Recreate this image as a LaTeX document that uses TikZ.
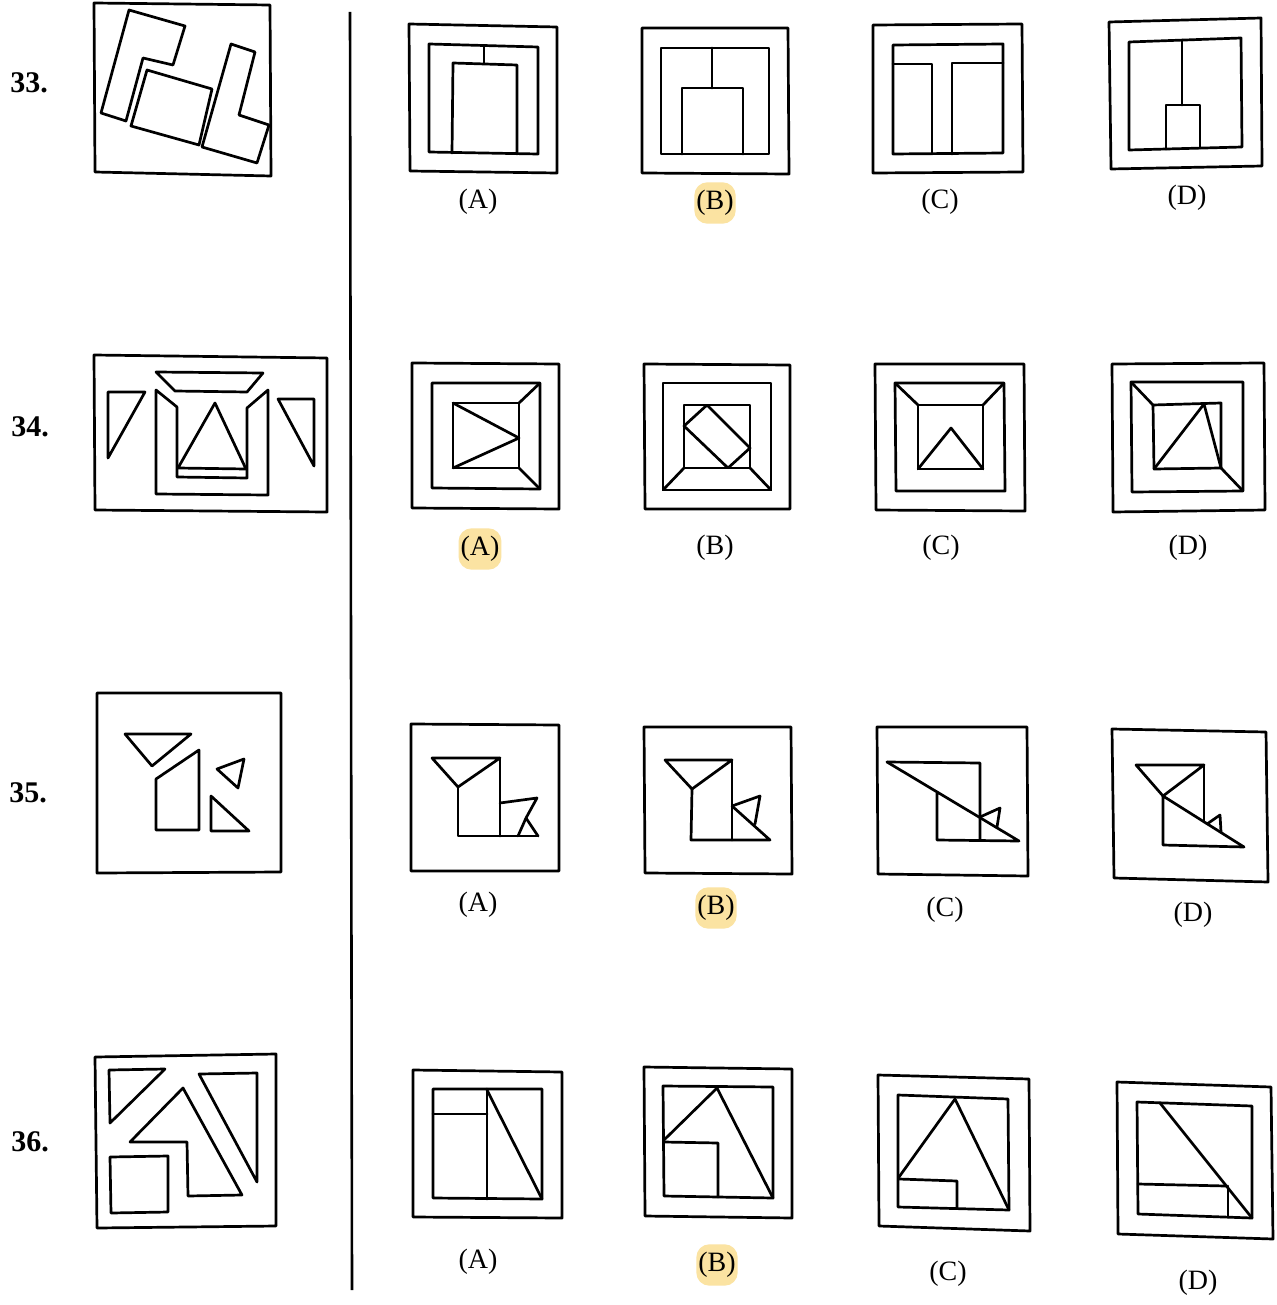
\documentclass[tikz,border=0pt]{standalone}
\usepackage{fontspec}
\setmainfont{Liberation Serif}
\definecolor{hlyellow}{HTML}{FBE3A2}
\begin{document}
\begin{tikzpicture}[x=1pt,y=-1pt,
  fig/.style={line width=2.7pt,line join=round,line cap=round},
  lbl/.style={font=\fontsize{28}{32}\selectfont,inner sep=1pt},
  hl/.style={lbl,fill=hlyellow,rounded corners=13pt,inner xsep=2pt,inner ysep=8pt},
  num/.style={font=\fontsize{30}{34}\selectfont\bfseries,inner sep=1pt}]
\useasboundingbox[fill=white] (0,0) rectangle (1276,1305);
% divider
\coordinate (dtop) at (350,12);
\coordinate (dbot) at (352,1290);
\draw[line width=2.6pt] (dtop)--(dbot);
% question numbers
\node[num] (n33) at (29,83) {33.};
\node[num] (n34) at (30,427) {34.};
\node[num] (n35) at (28,793) {35.};
\node[num] (n36) at (30,1142) {36.};
% ---------- Q33 ----------
\draw[fig] (94,3)--(270,5)--(271,176)--(95,172)--cycle;
\draw[fig] (129,10)--(185,26)--(173,65)--(143,58)--(126,121)--(101,113)--cycle;
\draw[fig] (147,70)--(212,89)--(199,145)--(131,126)--cycle;
\draw[fig] (231,44)--(255,52)--(239,115)--(269,125)--(257,163)--(202,147)--cycle;
% A
\draw[fig] (409,24)--(557,27)--(557,173)--(410,171)--cycle;
\draw[fig] (429,44)--(538,47)--(538,154)--(429,152)--cycle;
\draw[fig] (452,153)--(453,63)--(517,65)--(517,154);
\draw[fig] (484,46)--(484,63);
% B
\draw[fig] (642,28)--(788,28)--(789,174)--(642,173)--cycle;
\draw[fig] (661,48)--(769,48)--(769,154)--(661,154)--cycle;
\draw[fig] (682,154)--(682,88)--(743,88)--(743,154);
\draw[fig] (712,48)--(712,88);
% C
\draw[fig] (873,25)--(1022,24)--(1023,172)--(873,173)--cycle;
\draw[fig] (893,45)--(1003,44)--(1003,153)--(893,154)--cycle;
\draw[fig] (893,64)--(932,64)--(932,154);
\draw[fig] (1003,63)--(952,63)--(952,154);
% D
\draw[fig] (1109,22)--(1261,18)--(1262,166)--(1111,169)--cycle;
\draw[fig] (1129,42)--(1241,38)--(1242,147)--(1129,150)--cycle;
\draw[fig] (1166,149)--(1166,105)--(1200,105)--(1200,148);
\draw[fig] (1182,40)--(1182,105);
\node[lbl] (l33a) at (478,202) {(A)};
\node[hl]  (l33b) at (715,203) {(B)};
\node[lbl] (l33c) at (940,202) {(C)};
\node[lbl] (l33d) at (1187,198) {(D)};
% ---------- Q34 ----------
\draw[fig] (94,355)--(327,358)--(327,512)--(95,510)--cycle;
\draw[fig] (108,392)--(145,392)--(108,458)--cycle;
\draw[fig] (278,399)--(314,399)--(314,466)--cycle;
\draw[fig] (156,372)--(263,373)--(247,392)--(175,391)--cycle;
\draw[fig] (156,390)--(156,494)--(268,495)--(268,390)--(247,408)--(247,478)--(177,477)--(177,407)--cycle;
\draw[fig] (178,468)--(246,469)--(215,403)--cycle;
% A
\draw[fig] (412,363)--(559,364)--(559,509)--(412,508)--cycle;
\draw[fig] (432,383)--(540,383)--(540,489)--(432,488)--cycle;
\draw[fig] (453,403)--(519,403)--(519,468)--(453,468)--cycle;
\draw[fig] (519,403)--(540,383);
\draw[fig] (519,468)--(540,489);
\draw[fig] (453,403)--(519,438)--(453,468);
% B
\draw[fig] (644,364)--(790,365)--(790,509)--(645,509)--cycle;
\draw[fig] (663,383)--(771,383)--(771,490)--(663,490)--cycle;
\draw[fig] (684,405)--(750,405)--(750,468)--(684,468)--cycle;
\draw[fig] (684,468)--(663,490);
\draw[fig] (750,468)--(771,490);
\draw[fig] (707,405)--(750,448)--(728,468)--(684,426)--cycle;
% C
\draw[fig] (875,364)--(1024,364)--(1025,511)--(876,510)--cycle;
\draw[fig] (895,383)--(1004,383)--(1005,491)--(896,491)--cycle;
\draw[fig] (918,405)--(983,405)--(983,469)--(918,469)--cycle;
\draw[fig] (918,405)--(895,383);
\draw[fig] (983,405)--(1004,383);
\draw[fig] (918,469)--(951,428)--(983,469);
% D
\draw[fig] (1112,364)--(1264,363)--(1265,510)--(1113,512)--cycle;
\draw[fig] (1131,382)--(1243,382)--(1243,491)--(1132,492)--cycle;
\draw[fig] (1153,405)--(1221,403)--(1221,468)--(1154,469)--cycle;
\draw[fig] (1153,405)--(1131,382);
\draw[fig] (1221,468)--(1243,491);
\draw[fig] (1154,469)--(1204,404)--(1221,468);
\node[hl]  (l34a) at (480,549) {(A)};
\node[lbl] (l34b) at (715,548) {(B)};
\node[lbl] (l34c) at (941,548) {(C)};
\node[lbl] (l34d) at (1188,548) {(D)};
% ---------- Q35 ----------
\draw[fig] (97,693)--(281,693)--(281,872)--(97,873)--cycle;
\draw[fig] (125,734)--(191,734)--(152,766)--cycle;
\draw[fig] (156,779)--(199,750)--(199,830)--(156,830)--cycle;
\draw[fig] (217,769)--(244,759)--(238,788)--cycle;
\draw[fig] (211,796)--(249,831)--(211,831)--cycle;
% A
\draw[fig] (411,724)--(559,725)--(559,871)--(411,871)--cycle;
\draw[fig] (432,758)--(500,758)--(458,787)--cycle;
\draw[fig] (458,787)--(458,836)--(538,836);
\draw[fig] (500,758)--(500,836);
\draw[fig] (500,803)--(537,798)--(526,818)--(518,836);
\draw[fig] (526,818)--(538,836);
% B
\draw[fig] (644,727)--(791,727)--(792,874)--(645,873)--cycle;
\draw[fig] (665,760)--(732,760)--(692,789)--cycle;
\draw[fig] (692,789)--(691,840)--(770,840)--(732,806);
\draw[fig] (732,760)--(732,840);
\draw[fig] (732,806)--(760,796)--(755,824);
% C
\draw[fig] (877,727)--(1027,727)--(1028,876)--(878,874)--cycle;
\draw[fig] (887,762)--(1019,841)--(937,840)--(937,792);
\draw[fig] (887,762)--(980,763)--(980,840);
\draw[fig] (980,817)--(1000,808)--(997,827);
% D
\draw[fig] (1112,729)--(1266,732)--(1268,882)--(1114,878)--cycle;
\draw[fig] (1136,765)--(1204,765)--(1163,796)--cycle;
\draw[fig] (1163,796)--(1244,847)--(1163,845)--cycle;
\draw[fig] (1204,765)--(1204,822);
\draw[fig] (1207,824)--(1220,815)--(1221,832);
\node[lbl] (l35a) at (478,905) {(A)};
\node[hl]  (l35b) at (716,908) {(B)};
\node[lbl] (l35c) at (945,910) {(C)};
\node[lbl] (l35d) at (1193,915) {(D)};
% ---------- Q36 ----------
\draw[fig] (95,1057)--(276,1054)--(276,1226)--(97,1228)--cycle;
\draw[fig] (109,1070)--(165,1069)--(110,1123)--cycle;
\draw[fig] (199,1074)--(257,1073)--(257,1182)--cycle;
\draw[fig] (183,1088)--(242,1195)--(188,1196)--(187,1142)--(130,1142)--cycle;
\draw[fig] (110,1157)--(168,1156)--(168,1212)--(111,1213)--cycle;
% A
\draw[fig] (413,1070)--(562,1072)--(562,1218)--(413,1217)--cycle;
\draw[fig] (433,1089)--(542,1089)--(542,1199)--(433,1198)--cycle;
\draw[fig] (487,1089)--(487,1199);
\draw[fig] (433,1114)--(487,1114);
\draw[fig] (487,1090)--(542,1199);
% B
\draw[fig] (644,1067)--(792,1069)--(792,1218)--(645,1216)--cycle;
\draw[fig] (663,1086)--(773,1087)--(773,1198)--(664,1196)--cycle;
\draw[fig] (664,1140)--(717,1088)--(773,1198);
\draw[fig] (664,1142)--(718,1143)--(718,1197);
% C
\draw[fig] (878,1075)--(1029,1079)--(1030,1231)--(879,1226)--cycle;
\draw[fig] (898,1095)--(1008,1099)--(1009,1210)--(898,1207)--cycle;
\draw[fig] (899,1177)--(955,1099)--(1009,1210);
\draw[fig] (899,1179)--(957,1181)--(957,1208);
% D
\draw[fig] (1117,1082)--(1271,1087)--(1273,1239)--(1118,1234)--cycle;
\draw[fig] (1137,1102)--(1252,1106)--(1252,1218)--(1138,1214)--cycle;
\draw[fig] (1160,1103)--(1252,1218);
\draw[fig] (1138,1184)--(1226,1186);
\draw[fig] (1228,1186)--(1228,1217);
\node[lbl] (l36a) at (478,1262) {(A)};
\node[hl]  (l36b) at (717,1265) {(B)};
\node[lbl] (l36c) at (948,1274) {(C)};
\node[lbl] (l36d) at (1198,1283) {(D)};
\end{tikzpicture}
\end{document}
